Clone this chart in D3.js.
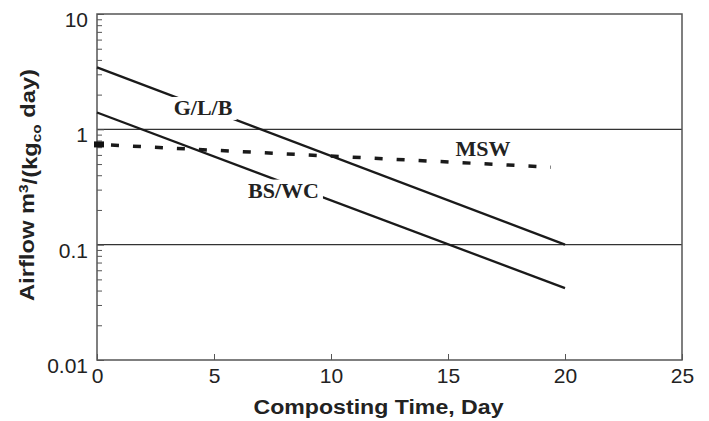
<!DOCTYPE html>
<html>
<head>
  <meta charset="utf-8">
  <script src="https://d3js.org/d3.v7.min.js"></script>
  <style>
    body { margin: 0; background: #fff; }
    svg { display: block; }
  </style>
</head>
<body>
<script>
var width = 709;
var height = 421;
var margin = {top: 14, right: 27, bottom: 61, left: 97};

// data
var days = [0, 20];
var glbValues = [3.45, 0.1];
var bswcValues = [1.40, 0.042];
var mswDays = [0, 19.4];
var mswValues = [0.74, 0.47];

var xTicks = [0, 5, 10, 15, 20, 25];
var yTicks = [0.01, 0.1, 1, 10];
var yTickLabels = ["0.01", "0.1", "1", "10"];
var gridValues = [0.1, 1];

var labelText = ["G/L/B", "BS/WC", "MSW"];
var labelDay = [4.53, 7.97, 16.5];
var labelValue = [1.54, 0.296, 0.684];
var labelKnockout = [true, true, false];

var x = d3.scaleLinear().domain([0, 25]).range([margin.left, width - margin.right]);
var y = d3.scaleLog().domain([0.01, 10]).range([height - margin.bottom, margin.top]);

var svg = d3.select("body").append("svg")
    .attr("width", width)
    .attr("height", height);

// grid lines at 1 and 0.1
svg.selectAll("line.grid")
    .data(gridValues)
    .enter().append("line")
    .attr("class", "grid")
    .attr("x1", x(0)).attr("x2", x(25))
    .attr("y1", function(d) { return y(d); })
    .attr("y2", function(d) { return y(d); })
    .style("stroke", "#333")
    .style("stroke-width", 1.2);

// minor ticks on the left axis
var minor = [];
[0.01, 0.1, 1].forEach(function(dec) {
  for (var k = 2; k <= 9; k++) minor.push(dec * k);
});

svg.append("g")
    .attr("transform", "translate(" + margin.left + ",0)")
    .call(d3.axisLeft(y).tickValues(minor).tickSize(-5).tickFormat(""))
    .call(function(g) { g.select(".domain").remove(); })
    .selectAll("line").style("stroke", "#555");

var yAxis = svg.append("g")
    .attr("transform", "translate(" + margin.left + ",0)")
    .call(d3.axisLeft(y).tickValues(yTicks).tickSize(-7).tickPadding(9)
      .tickFormat(function(d, i) { return yTickLabels[i]; }));
yAxis.select(".domain").remove();
yAxis.selectAll("line").style("stroke", "#555");
yAxis.selectAll("text")
    .attr("dy", "0.6em")
    .style("font-family", "Liberation Sans, Arial, sans-serif")
    .style("font-size", "21px")
    .style("fill", "#222");

var xAxis = svg.append("g")
    .attr("transform", "translate(0," + (height - margin.bottom) + ")")
    .call(d3.axisBottom(x).tickValues(xTicks).tickSize(-6).tickPadding(8));
xAxis.select(".domain").remove();
xAxis.selectAll("line").style("stroke", "#555");
xAxis.selectAll("text")
    .attr("y", 8)
    .attr("dy", "0.71em")
    .style("font-family", "Liberation Sans, Arial, sans-serif")
    .style("font-size", "21px")
    .style("fill", "#222");

// frame
svg.append("rect")
    .attr("x", x(0)).attr("y", y(10))
    .attr("width", x(25) - x(0))
    .attr("height", y(0.01) - y(10))
    .style("fill", "none")
    .style("stroke", "#555")
    .style("stroke-width", 1.5);

var line = d3.line()
    .x(function(d) { return x(d[0]); })
    .y(function(d) { return y(d[1]); });

svg.append("path")
    .datum(d3.zip(days, glbValues))
    .attr("d", line)
    .style("fill", "none").style("stroke", "#1a1a1a").style("stroke-width", 2.3);

svg.append("path")
    .datum(d3.zip(days, bswcValues))
    .attr("d", line)
    .style("fill", "none").style("stroke", "#1a1a1a").style("stroke-width", 2.3);

svg.append("path")
    .datum(d3.zip(mswDays, mswValues))
    .attr("d", line)
    .style("fill", "none").style("stroke", "#1a1a1a").style("stroke-width", 3.5)
    .style("stroke-dasharray", "8,14")
    .style("stroke-dashoffset", -14);

// start marker of MSW
svg.append("rect")
    .attr("x", x(mswDays[0]) - 3)
    .attr("y", y(mswValues[0]) - 3)
    .attr("width", 10).attr("height", 6)
    .style("fill", "#111");

// curve labels, with a white knock-out behind where the line is broken
labelText.forEach(function(t, i) {
  var g = svg.append("g");
  var txt = g.append("text")
      .attr("x", x(labelDay[i]))
      .attr("y", y(labelValue[i]))
      .attr("dy", "0.33em")
      .attr("text-anchor", "middle")
      .style("font-family", "Liberation Serif, Times New Roman, serif")
      .style("font-weight", "bold")
      .style("font-size", "22px")
      .style("fill", "#222")
      .text(t);
  if (labelKnockout[i]) {
    var b = txt.node().getBBox();
    g.insert("rect", "text")
        .attr("x", b.x - 4).attr("y", b.y + 2)
        .attr("width", b.width + 8).attr("height", b.height - 2)
        .style("fill", "#fff");
  }
});

// axis titles
svg.append("text")
    .attr("x", (x(0) + x(25)) / 2 - 11)
    .attr("y", 414)
    .attr("text-anchor", "middle")
    .attr("textLength", 250)
    .attr("lengthAdjust", "spacingAndGlyphs")
    .style("font-family", "Liberation Sans, Arial, sans-serif")
    .style("font-weight", "bold")
    .style("font-size", "20px")
    .style("fill", "#222")
    .text("Composting Time, Day");

var yt = svg.append("text")
    .attr("transform", "translate(34,185) rotate(-90)")
    .attr("text-anchor", "middle")
    .attr("textLength", 232)
    .attr("lengthAdjust", "spacingAndGlyphs")
    .style("font-family", "Liberation Sans, Arial, sans-serif")
    .style("font-weight", "bold")
    .style("font-size", "20px")
    .style("fill", "#222");
yt.append("tspan").text("Airflow m");
yt.append("tspan").attr("dy", "-0.45em").style("font-size", "13px").text("3");
yt.append("tspan").attr("dy", "0.45em").text("/(kg");
yt.append("tspan").attr("dy", "0.3em").style("font-size", "13px").text("co");
yt.append("tspan").attr("dy", "-0.3em").text(" day)");
</script>
</body>
</html>
